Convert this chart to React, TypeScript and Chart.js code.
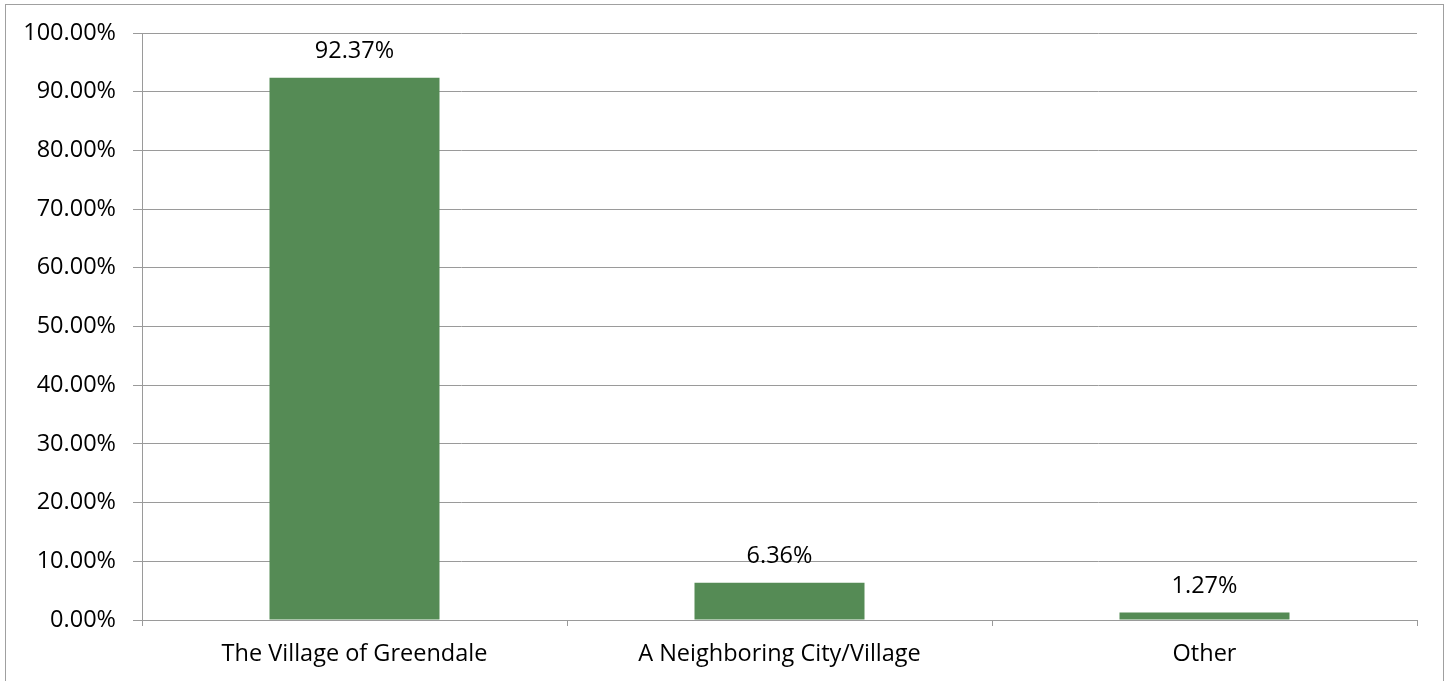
import React, { useEffect, useRef } from "react";
import { Chart, registerables } from "chart.js";

Chart.register(...registerables);

const categories = ["The Village of Greendale", "A Neighboring City/Village", "Other"];
const values = [92.37, 6.36, 1.27];
const yTicks = [0, 10, 20, 30, 40, 50, 60, 70, 80, 90, 100];

const FONT = "'Open Sans', 'Liberation Sans', sans-serif";
const FSIZE = 23.5;

const dataLabelPlugin = {
  id: "dataLabels",
  afterDatasetsDraw(chart: any) {
    const ctx = chart.ctx;
    const meta = chart.getDatasetMeta(0);
    ctx.save();
    ctx.fillStyle = "#000";
    ctx.font = `${FSIZE}px ${FONT}`;
    ctx.textAlign = "center";
    ctx.textBaseline = "middle";
    meta.data.forEach((bar: any, i: number) => {
      ctx.fillText(values[i].toFixed(2) + "%", bar.x, bar.y - 26);
    });
    ctx.restore();
  },
};

export default function App() {
  const ref = useRef<HTMLCanvasElement>(null);
  useEffect(() => {
    document.body.style.margin = "0";
    const chart = new Chart(ref.current!, {
      type: "bar",
      data: {
        labels: categories,
        datasets: [
          {
            data: values,
            backgroundColor: "#558B55",
            categoryPercentage: 1,
            barPercentage: 0.4,
          },
        ],
      },
      options: {
        animation: false,
        responsive: false,
        maintainAspectRatio: false,
        layout: { padding: { left: 0, top: 33, right: 32, bottom: 0 } },
        plugins: { legend: { display: false }, tooltip: { enabled: false } },
        scales: {
          y: {
            min: 0,
            max: 100,
            afterBuildTicks: (scale: any) => {
              scale.ticks = yTicks.map((v) => ({ value: v }));
            },
            afterFit: (scale: any) => {
              scale.width = 142;
            },
            grid: { color: "#9a9a9a", lineWidth: 1, tickLength: 9 },
            border: { color: "#9a9a9a", width: 1 },
            ticks: {
              padding: 17,
              color: "#000",
              font: { family: FONT, size: FSIZE },
              callback: (v: any) => Number(v).toFixed(2) + "%",
            },
          },
          x: {
            afterFit: (scale: any) => {
              scale.height = 61;
            },
            grid: {
              offset: true,
              drawOnChartArea: false,
              drawTicks: true,
              tickLength: 6,
              color: "#9a9a9a",
            },
            border: { color: "#9a9a9a", width: 1 },
            ticks: {
              padding: 14,
              color: "#000",
              font: { family: FONT, size: FSIZE },
              maxRotation: 0,
            },
          },
        },
      },
      plugins: [dataLabelPlugin],
    });
    return () => chart.destroy();
  }, []);

  return (
    <div style={{ position: "relative", width: 1449, height: 681, overflow: "hidden", background: "#fff" }}>
      <div
        style={{
          position: "absolute",
          left: 5,
          top: 4,
          width: 1439,
          height: 700,
          border: "1px solid #a0a0a0",
          boxSizing: "border-box",
        }}
      />
      <canvas ref={ref} width={1449} height={681} style={{ position: "absolute", left: 0, top: 0, display: "block" }} />
    </div>
  );
}
